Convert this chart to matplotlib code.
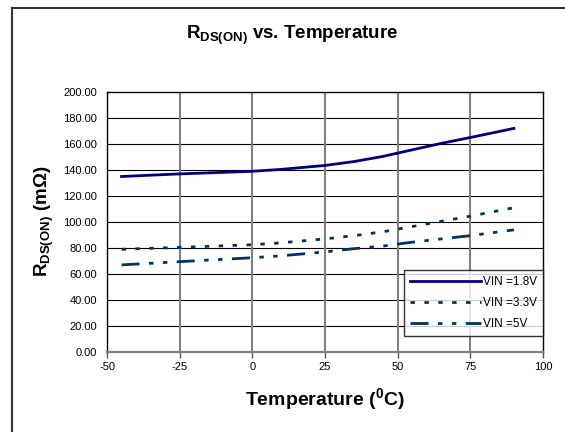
import matplotlib
matplotlib.use("Agg")
import matplotlib.pyplot as plt
from matplotlib.lines import Line2D

plt.rcParams["font.family"] = ["Liberation Sans", "DejaVu Sans"]
plt.rcParams["mathtext.fontset"] = "custom"
plt.rcParams["mathtext.rm"] = "Liberation Sans"
plt.rcParams["mathtext.it"] = "Liberation Sans:italic"
plt.rcParams["mathtext.bf"] = "Liberation Sans:bold"

# values
temp_c = [-45, -25, 0, 10, 25, 35, 45, 55, 65, 75, 90]
rds_18v = [135, 137, 139, 140.5, 143.5, 146.5, 150.5, 155.5, 160.5, 165, 172]
rds_33v = [79, 80.5, 82.5, 84, 87, 89.5, 92.5, 96.5, 100.5, 104.5, 111]
rds_5v = [67, 69.5, 72.5, 74, 77, 79.5, 81.5, 84.5, 87, 89.5, 94]
series_labels = ["VIN =1.8V", "VIN =3.3V", "VIN =5V"]
x_ticks = [-50, -25, 0, 25, 50, 75, 100]
y_ticks = [0, 20, 40, 60, 80, 100, 120, 140, 160, 180, 200]

LW = 2.0
DOTS = (1.6, 3.4)
DASH_DOT_DOT = (6.5, 3.4, 1.6, 3.4, 1.6, 3.4)

W, H = 565, 432
fig = plt.figure(figsize=(W / 100, H / 100), dpi=100)
ax = fig.add_axes((107 / W, 1 - 352 / H, 436 / W, 260 / H))

ax.plot(temp_c, rds_18v, color="#000080", lw=LW, label=series_labels[0])
ax.plot(temp_c, rds_33v, color="#003366", lw=LW, dashes=DOTS,
        label=series_labels[1])
ax.plot(temp_c, rds_5v, color="#003366", lw=LW, dashes=DASH_DOT_DOT,
        label=series_labels[2])

ax.set_xlim(-50, 100)
ax.set_ylim(0, 200)
ax.set_xticks(x_ticks)
ax.set_yticks(y_ticks)
ax.set_xticklabels([str(t) for t in x_ticks])
ax.set_yticklabels([f"{v:.2f}" for v in y_ticks])
ax.tick_params(labelsize=8, length=4, width=1, color="#555555")
ax.tick_params(axis="y", length=0, pad=7)

# horizontal grid black and thin, vertical grid grey and heavier
for v in y_ticks[1:-1]:
    ax.axhline(v, color="black", lw=0.8, zorder=0)
for t in x_ticks[1:-1]:
    ax.axvline(t, color="#808080", lw=1.5, zorder=0)

for side in ("top", "left", "right"):
    ax.spines[side].set_color("black")
    ax.spines[side].set_linewidth(1)
ax.spines["bottom"].set_color("#808080")
ax.spines["bottom"].set_linewidth(1.6)

handles = [
    Line2D([], [], color="#000080", lw=LW),
    Line2D([], [], color="#003366", lw=LW, dashes=DOTS),
    Line2D([], [], color="#003366", lw=LW, dashes=DASH_DOT_DOT),
]
leg = ax.legend(handles, series_labels, loc="lower right",
                bbox_to_anchor=(1.0, 16 / 260), fontsize=8.5, frameon=True,
                fancybox=False, edgecolor="black", handlelength=6.0,
                handletextpad=0.15, borderpad=0.5, labelspacing=0.75,
                borderaxespad=0)
leg.get_frame().set_linewidth(1)

fig.text(292 / W, 1 - 35 / H, r"R$_{\mathbf{DS(ON)}}$ vs. Temperature",
         ha="center", va="center", fontsize=13.5, fontweight="bold")
fig.text(44 / W, 1 - 221 / H, r"R$_{\mathbf{DS(ON)}}$ (m$\mathbf{\Omega}$)",
         ha="center", va="center", rotation=90, fontsize=13.5,
         fontweight="bold")
fig.text(325 / W, 1 - 399 / H, r"Temperature ($^{\mathbf{0}}$C)",
         ha="center", va="center", fontsize=14, fontweight="bold")

# outer chart frame (cut off at right and bottom)
fig.add_artist(Line2D([12 / W, 1], [1 - 8 / H, 1 - 8 / H],
                      transform=fig.transFigure, color="#333333", lw=1.5))
fig.add_artist(Line2D([12 / W, 12 / W], [0, 1 - 8 / H],
                      transform=fig.transFigure, color="#333333", lw=1.5))

fig.savefig("out.png", dpi=100)
